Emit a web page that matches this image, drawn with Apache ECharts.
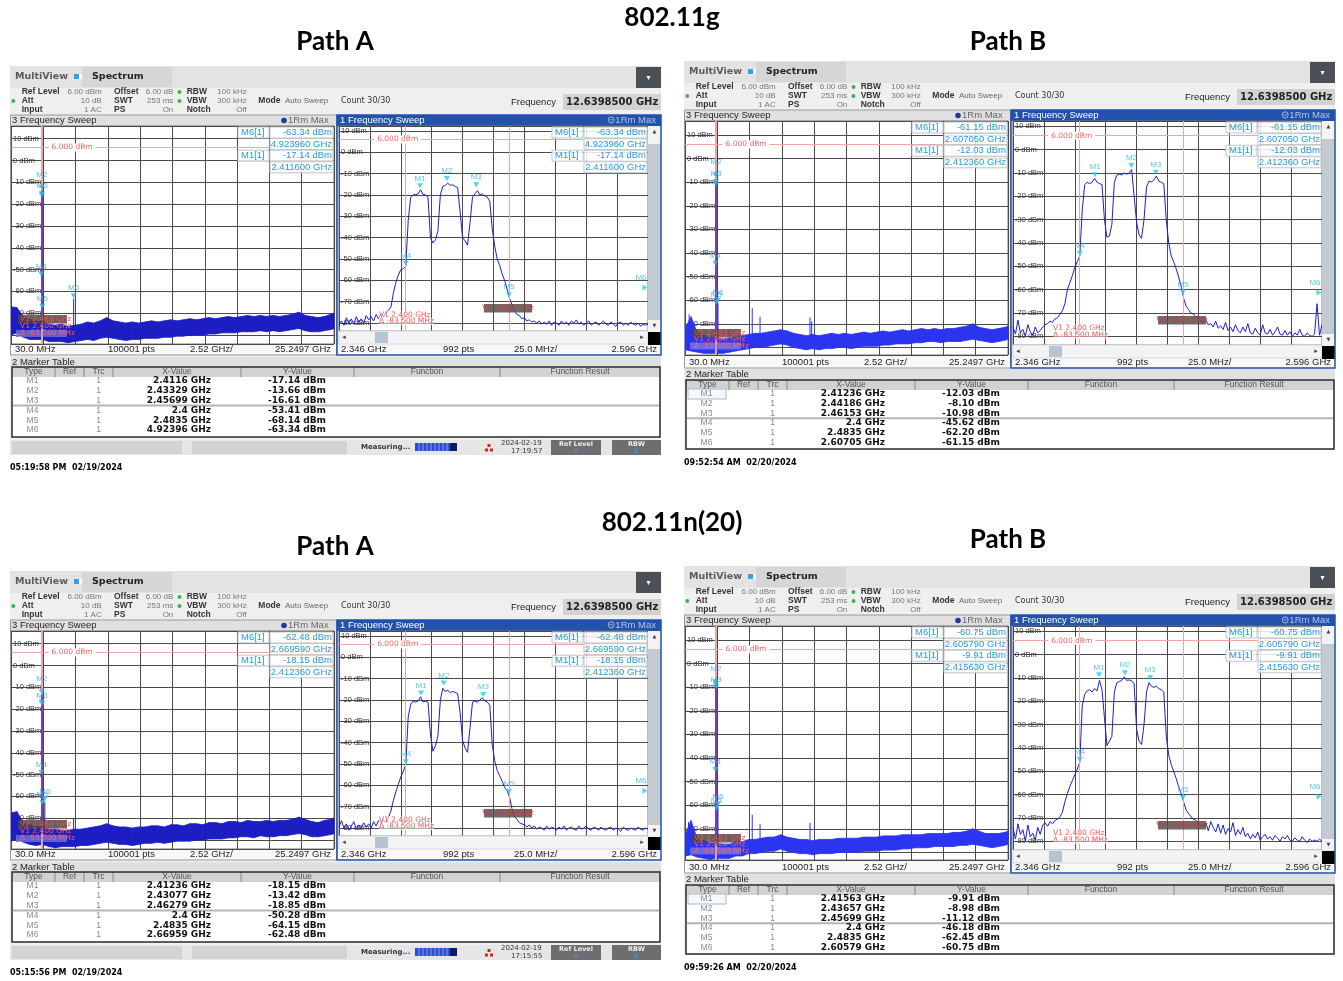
<!DOCTYPE html>
<html><head><meta charset="utf-8">
<script src="https://cdn.jsdelivr.net/npm/echarts@6/dist/echarts.min.js"></script>
<style>html,body{margin:0;padding:0;background:#fff;}#c{width:1343px;height:981px;}</style>
</head><body><div id="c"></div>
<script>
// ---------------- DATA ----------------
const SECTION_TITLES = ['802.11g', '802.11n(20)'];
const PATH_TITLES = ['Path A', 'Path B', 'Path A', 'Path B'];
const STAMPS = ['05:19:58 PM  02/19/2024', '09:52:54 AM  02/20/2024', '05:15:56 PM  02/19/2024', '09:59:26 AM  02/20/2024'];
const STATUS_DATES = ['2024-02-19', '', '2024-02-19', ''];
const STATUS_TIMES = ['17:19:57', '', '17:15:55', ''];
const SETTINGS = [['Ref Level', '6.00 dBm'], ['Att', '10 dB'], ['Input', '1 AC'],
                  ['Offset', '6.00 dB'], ['SWT', '253 ms'], ['PS', 'On'],
                  ['RBW', '100 kHz'], ['VBW', '300 kHz'], ['Notch', 'Off']];
const MODE = ['Mode', 'Auto Sweep'];
const COUNT = 'Count 30/30';
const CENTER_FREQ = '12.6398500 GHz';
const WIDE_FOOT = ['30.0 MHz', '100001 pts', '2.52 GHz/', '25.2497 GHz'];
const ZOOM_FOOT = ['2.346 GHz', '992 pts', '25.0 MHz/', '2.596 GHz'];
const TABLE_HEAD = ['Type', 'Ref', 'Trc', 'X-Value', 'Y-Value', 'Function', 'Function Result'];
const V_LABELS = ['V1 2.400 GHz', 'V2 2.483 GHz', '\u0394 -83.500 MHz'];
const REF_TEXT = '6.000 dBm';
const REF_LEVEL = 6;
const VLINES_GHZ = [2.4, 2.4835];
const WIDE_START = 0.03, WIDE_STOP = 25.2497;       // GHz
const ZOOM_START = 2346, ZOOM_STOP = 2596;          // MHz
const SPIKE_BASE = -77;

// zoomed trace frequency grid (MHz)
const Z_FREQ = [2346,2348,2350,2352,2354,2356,2358,2360,2362,2364,
2366,2368,2370,2372,2374,2376,2378,2380,2382,2384,
2386,2388,2390,2392,2394,2396,2398,2400,2402,2404,
2406,2408,2410,2412,2414,2416,2418,2420,2422,2424,
2426,2428,2430,2432,2434,2436,2438,2440,2442,2444,
2446,2448,2450,2452,2454,2456,2458,2460,2462,2464,
2466,2468,2470,2472,2474,2476,2478,2480,2482,2484,
2486,2488,2490,2492,2494,2496,2498,2500,2502,2504,
2506,2508,2510,2512,2514,2516,2518,2520,2522,2524,
2526,2528,2530,2532,2534,2536,2538,2540,2542,2544,
2546,2548,2550,2552,2554,2556,2558,2560,2562,2564,
2566,2568,2570,2572,2574,2576,2578,2580,2582,2584,
2586,2588,2590,2592,2594,2596];

const A_G_ZOOM = [-80.5,-79,-81,-77.5,-80,-78,-80.5,-77,-79.5,-78,
-80,-76.5,-78.5,-77,-79,-76,-78,-75.5,-77,-75,
-74,-72.5,-66,-61,-57.5,-55,-54.5,-53.4,-32,-21,
-20,-19.8,-19.5,-17.5,-19.8,-20,-21,-40,-42.5,-41,
-37,-20,-16,-15.5,-14.5,-15.5,-15.2,-16,-16.5,-28,
-40,-41.5,-43.5,-33,-21,-19.5,-18,-20,-19.5,-20.5,
-21,-23,-36,-44,-50,-53,-57,-60,-64,-68.5,
-71.5,-74.5,-76,-76.5,-78,-77.5,-79,-78.5,-79.5,-79,
-80,-79,-80.5,-79.5,-80.5,-79,-81,-79.5,-80,-81,
-79,-80.5,-79.5,-81,-79,-80,-78.5,-80.5,-79.5,-81,
-80,-79,-81,-80,-79.5,-81,-80,-79,-80.5,-81,
-79.5,-80.5,-81.5,-80,-79.5,-81,-80,-81,-79.5,-80.5,
-81,-80,-81.5,-80.5,-81,-80.5];

const B_G_ZOOM = [-76,-79,-73,-78.5,-77,-80,-75,-78,-79.5,-76,
-78.5,-77.5,-76,-75,-74.5,-73.5,-74,-72.5,-72,-70.5,
-69,-66,-60,-57,-54,-50.5,-48,-45.6,-26,-15,
-14,-14.5,-14,-12.3,-14,-14.5,-15,-30,-37.5,-37,
-32,-14,-11,-10.5,-10.8,-10,-10.5,-10,-8.5,-20,
-31,-36.5,-38,-30,-16,-13.5,-13.8,-13,-11.3,-13.5,
-14,-14.5,-30,-40,-45.5,-48,-51,-54.5,-58.5,-63.5,
-67,-68.5,-70,-70.5,-71.5,-72,-73.5,-74,-73,-75,
-74.5,-76,-73.5,-76.5,-75.5,-77,-74,-77.5,-76,-78,
-75,-77.5,-78.5,-76,-78,-74.5,-78.5,-79,-76.5,-78.5,
-79.5,-75,-78.5,-79,-77,-79.5,-78,-76,-79,-79.5,
-77.5,-79.5,-78,-80,-78.5,-79.5,-77,-79.5,-80,-78.5,
-79.5,-80,-79,-66,-79.5,-75];

const A_N_ZOOM = [-79.5,-76.5,-80,-78,-81,-79,-77,-80.5,-78.5,-80,
-77.5,-79.5,-78,-80,-77,-79,-76.5,-78,-76,-77.5,
-75,-72,-67,-63,-59.5,-56,-53.5,-50.3,-28,-22,
-20.5,-21,-20.5,-18.5,-21,-20.5,-21,-36,-44,-41.5,
-37,-20,-14.5,-16,-15.5,-16.5,-16,-16.5,-17,-26,
-39,-42.5,-44.5,-33,-21,-20.5,-21,-20,-19,-20.5,
-21,-22.5,-41,-48.5,-53,-55.5,-58,-61,-62.5,-65.5,
-71,-74.5,-76,-77.5,-78,-78.5,-79.5,-78.5,-80,-79,
-80.5,-79.5,-80,-81,-79,-80.5,-79.5,-80,-81,-79.5,
-80.5,-79,-81,-80,-79.5,-80.5,-81,-79,-80.5,-80,
-79,-80.5,-81,-79.5,-80,-81,-79.5,-80.5,-81,-80,
-79.5,-81,-80,-80.5,-81.5,-79.5,-80.5,-81,-80,-80.5,
-81,-79.5,-80.5,-81,-80,-80.5];

const B_N_ZOOM = [-74,-79,-72.5,-77,-75,-80,-73,-78,-76.5,-79.5,
-74,-77,-73,-72,-73.5,-71.5,-72.5,-71,-70.5,-69.5,
-67.5,-63,-59.5,-56.5,-54,-51.5,-49,-46.2,-22,-17,
-15.5,-15,-16,-14.5,-15.5,-11,-15,-27,-39,-37,
-35,-16,-12,-11.5,-11,-9.5,-11,-10.8,-11.2,-12.5,
-32,-37,-38.5,-30,-16,-12,-13.5,-14,-13.5,-14.5,
-15,-16,-35,-43,-47,-50,-53,-56.5,-59.5,-63,
-66.5,-68,-69.5,-70.5,-71,-72,-73,-73.5,-72,-75.5,
-71.5,-74,-76,-72.5,-76.5,-73,-77,-74.5,-76,-72,
-77.5,-75,-77,-74,-78,-76.5,-79,-77,-78.5,-76,
-79.5,-78,-77,-79,-78,-79.5,-77.5,-78.5,-80,-78,
-79,-77.5,-79.5,-80,-78.5,-79.5,-80,-78,-79.5,-80.5,
-79,-80,-79.5,-80,-79,-80];

// wide-span noise band (GHz grid), upper/lower envelope
const W_FREQ = [0.03,0.5,1,1.5,2,2.5,3,3.5,4,4.5,5,5.5,6,6.5,7,7.5,8,8.5,9,9.5,10,10.5,11,11.5,12,12.5,
13,13.5,14,14.5,15,15.5,16,16.5,17,17.5,18,18.5,19,19.5,20,20.5,21,21.5,22,22.5,23,23.5,24,24.5,25,25.2497];
const A_G_HI = [-67,-67.5,-72,-73,-73.5,-74,-75,-75.5,-75,-76,-75.5,-75,-74,-74.5,-73.5,-72,-73.5,-74,-74.5,-74,-74.5,-74,-73.5,-74,-73.5,-73,
-73.5,-73,-72.5,-73,-72.5,-72,-72.5,-72,-71.5,-72,-71.5,-71,-71.5,-71,-71.5,-71,-71.5,-71,-70.5,-69.5,-71,-71.5,-72,-71.5,-70.5,-70];
const A_G_LO = [-80,-79,-81,-82,-82,-82,-83,-83,-83,-83.5,-83,-82.5,-82,-82.5,-81.5,-81,-81.5,-82,-82.5,-82,-82,-81.5,-81.5,-81.5,-81,-81,
-80.5,-80.5,-80,-80,-80,-79.5,-79.5,-79,-79,-79,-78.5,-78.5,-78.5,-78,-78.5,-78,-78.5,-78,-77.5,-77,-78,-78.5,-78.5,-78,-77.5,-77];
const B_G_HI = [-72,-67,-74,-75,-75.5,-76,-76.5,-76,-75.5,-75,-74.5,-74,-74,-73.5,-73,-72.5,-73,-74,-74.5,-75,-74.5,-75,-74.5,-74,-74.5,-74,
-74.5,-74,-73.5,-74,-73.5,-73,-73.5,-73,-72.5,-73,-72.5,-72,-72.5,-72,-72.5,-72,-72,-71.5,-71,-70,-71.5,-72,-72.5,-72,-71.5,-71];
const B_G_LO = [-81,-81.5,-82,-82.5,-82.5,-82.5,-82.5,-82,-81.5,-81,-80.5,-80,-80,-79.5,-79,-78.5,-79,-80,-80.5,-81,-80.5,-81,-80.5,-80.5,-80,-80,
-80.5,-80,-79.5,-79.5,-79.5,-79,-79,-78.5,-78.5,-78.5,-78,-78,-77.5,-77.5,-78,-77.5,-77.5,-77.5,-77,-76.5,-77,-77.5,-78,-77.5,-77,-76.5];
const A_N_HI = [-67.5,-67,-72.5,-73,-73.5,-74.5,-75,-75,-75.5,-75.5,-75,-75,-74.5,-74,-73.5,-72.5,-73.5,-74,-74,-74.5,-74,-74,-73.5,-73.5,-74,-73,
-73,-73.5,-72.5,-72.5,-73,-72,-72,-72.5,-71.5,-71.5,-72,-71,-71.5,-71.5,-71,-71.5,-71,-71,-70.5,-69.5,-70.5,-71.5,-72,-71,-70.5,-70];
const A_N_LO = [-80.5,-79.5,-81,-82,-82.5,-82,-83,-83.5,-83,-83,-83,-82.5,-82.5,-82,-81.5,-81,-81.5,-82,-82,-82.5,-82,-81.5,-81.5,-81,-81.5,-81,
-80.5,-80.5,-80.5,-80,-80,-79.5,-79.5,-79.5,-79,-79,-78.5,-78.5,-79,-78,-78.5,-78.5,-78,-78,-77.5,-77,-77.5,-78.5,-78.5,-78,-77.5,-77];
const B_N_HI = [-72.5,-66.5,-74.5,-75,-76,-76,-76.5,-76.5,-75.5,-75.5,-74.5,-74.5,-74,-73.5,-73.5,-72.5,-73.5,-74,-74.5,-74.5,-75,-74.5,-74.5,-74.5,-74,-74,
-74,-74,-73.5,-73.5,-73.5,-73,-73,-73,-72.5,-72.5,-72.5,-72.5,-72,-72,-72,-72,-71.5,-71.5,-71,-70,-71,-72,-72,-72,-71.5,-71];
const B_N_LO = [-81.5,-81,-82,-82.5,-83,-82.5,-82.5,-82.5,-81.5,-81.5,-80.5,-80.5,-80,-79.5,-79.5,-78.5,-79.5,-80,-80.5,-80.5,-81,-80.5,-80.5,-80.5,-80,-80,
-80,-80,-79.5,-79.5,-79.5,-79,-79,-79,-78.5,-78.5,-78,-78,-78,-77.5,-77.5,-77.5,-77.5,-77,-77,-76.5,-77,-77.5,-78,-77.5,-77,-76.5];

// narrow spurs in the wide span (GHz, dBm)
const A_G_SPUR_F = [4.924];                     const A_G_SPUR_L = [-63.3];
const B_G_SPUR_F = [0.35, 2.607, 5.28, 5.89, 9.79, 9.92]; const B_G_SPUR_L = [-66, -61.2, -63.4, -67, -67.3, -69];
const A_N_SPUR_F = [2.67, 4.92];                const A_N_SPUR_L = [-62.5, -70];
const B_N_SPUR_F = [0.3, 2.606, 5.28, 5.89, 9.79]; const B_N_SPUR_L = [-67, -60.8, -64, -68, -67.5];
// in-band carrier envelope seen in the wide span [GHz, dBm]
const A_G_CARRIER = [2.45, -13.7];
const B_G_CARRIER = [2.45, -9.5];
const A_N_CARRIER = [2.45, -13.4];
const B_N_CARRIER = [2.45, -9.0];

// markers M1..M6 (GHz, dBm)
const A_G_MK_X = [2.4116, 2.43329, 2.45699, 2.4, 2.4835, 4.92396];
const A_G_MK_Y = [-17.14, -13.66, -16.61, -53.41, -68.14, -63.34];
const B_G_MK_X = [2.41236, 2.44186, 2.46153, 2.4, 2.4835, 2.60705];
const B_G_MK_Y = [-12.03, -8.10, -10.98, -45.62, -62.20, -61.15];
const A_N_MK_X = [2.41236, 2.43077, 2.46279, 2.4, 2.4835, 2.66959];
const A_N_MK_Y = [-18.15, -13.42, -18.85, -50.28, -64.15, -62.48];
const B_N_MK_X = [2.41563, 2.43657, 2.45699, 2.4, 2.4835, 2.60579];
const B_N_MK_Y = [-9.91, -8.98, -11.12, -46.18, -62.45, -60.75];

// ---------------- LAYOUT / STYLE ----------------
const LAYOUTS = {
  short: {wideH: 218, zoomH: 205, wideR: [-84.1, 15.8], zoomR: [-83.7, 12.3], footY: 283, mtY: 296, tTop: 301, tH: 70, hdrY: 306, row0: 315, rowH: 9.8,
          status: true, vBox: 29, vV1: 17.5, vD: 10.5, zV1: 16, zD: 9.5, zBox: 27},
  tall:  {wideH: 234, zoomH: 224, wideR: [-83.2, 15.9], zoomR: [-83.7, 12.3], footY: 301, mtY: 313, tTop: 319, tH: 69, hdrY: 324, row0: 333, rowH: 9.7,
          status: false, vBox: 26, vV1: 15.5, vD: 9, zV1: 17, zD: 9.7, zBox: 29}
};
const PANELS = [
  {ox: 10,  oy: 66,  lay: 'short', zoom: A_G_ZOOM, hi: A_G_HI, lo: A_G_LO, spF: A_G_SPUR_F, spL: A_G_SPUR_L, car: A_G_CARRIER, mx: A_G_MK_X, my: A_G_MK_Y, band: '#1d1dc4'},
  {ox: 684, oy: 61,  lay: 'tall',  zoom: B_G_ZOOM, hi: B_G_HI, lo: B_G_LO, spF: B_G_SPUR_F, spL: B_G_SPUR_L, car: B_G_CARRIER, mx: B_G_MK_X, my: B_G_MK_Y, band: '#2b34ee'},
  {ox: 10,  oy: 571, lay: 'short', zoom: A_N_ZOOM, hi: A_N_HI, lo: A_N_LO, spF: A_N_SPUR_F, spL: A_N_SPUR_L, car: A_N_CARRIER, mx: A_N_MK_X, my: A_N_MK_Y, band: '#1d1dc4'},
  {ox: 684, oy: 566, lay: 'tall',  zoom: B_N_ZOOM, hi: B_N_HI, lo: B_N_LO, spF: B_N_SPUR_F, spL: B_N_SPUR_L, car: B_N_CARRIER, mx: B_N_MK_X, my: B_N_MK_Y, band: '#2b34ee'}
];
const LSF = "'Liberation Sans'", DVF = "'DejaVu Sans'";

const E = [];
function txt(x, y, s, font, fill, align, extra, z) {
  const st = {text: s, font: font, fill: fill, align: align || 'left', verticalAlign: 'middle', textAlign: align || 'left', textVerticalAlign: 'middle'};
  if (extra) Object.assign(st, extra);
  return {type: 'text', x: x, y: y, z: z == null ? 60 : z, silent: true, style: st};
}
function rect(x, y, w, h, fill, stroke, lw, z) {
  return {type: 'rect', z: z == null ? -5 : z, silent: true, shape: {x: x, y: y, width: w, height: h},
          style: {fill: fill || 'none', stroke: stroke || 'none', lineWidth: lw || 1}};
}

const grids = [], xAxes = [], yAxes = [], series = [];

function xAxisDef(gi, mn, mx) {
  return {type: 'value', gridIndex: gi, min: mn, max: mx, interval: (mx - mn) / 10,
    axisLine: {show: false}, axisTick: {show: false}, axisLabel: {show: false},
    splitLine: {show: true, lineStyle: {color: '#4a4a4a', width: 1}}};
}
function yAxisDef(gi, r) {
  const mn = r[0], mx = r[1];
  return {type: 'value', gridIndex: gi, min: mn, max: mx, splitNumber: 10,
    axisLine: {show: false}, axisTick: {show: false},
    axisLabel: {show: true, inside: true, margin: 2, color: '#333', fontSize: 7.5, fontFamily: 'Liberation Sans',
      formatter: function (v) {
        const r10 = Math.round(v / 10) * 10;
        return (Math.abs(v - r10) < 1e-6 && v > mn + 0.5 && v < mx - 0.5) ? (r10 + ' dBm') : '';
      }},
    splitLine: {show: true, lineStyle: {color: '#4a4a4a', width: 1}}};
}
function vMarkLines(xs) {
  return {silent: true, animation: false, symbol: ['none', 'none'], label: {show: false},
    lineStyle: {color: '#f3a3a3', width: 1, type: 'solid'},
    data: xs.map(function (x) { return {xAxis: x}; }).concat([{yAxis: REF_LEVEL}])};
}
function refLabel(coord) {
  return {silent: true, animation: false, symbol: 'rect', symbolSize: 1, itemStyle: {color: 'rgba(0,0,0,0)'},
    label: {show: true, position: 'inside', formatter: REF_TEXT, color: '#f06767', fontSize: 7.5, fontFamily: 'DejaVu Sans',
            backgroundColor: '#fff', padding: [0, 3]},
    data: [{coord: coord}]};
}
function spurSeries(gi, data, color, lw, z) {
  return {type: 'custom', xAxisIndex: gi, yAxisIndex: gi, silent: true, z: z, data: data,
    renderItem: function (params, api) {
      const a = api.coord([api.value(0), SPIKE_BASE]);
      const b = api.coord([api.value(0), api.value(1)]);
      return {type: 'line', shape: {x1: a[0], y1: a[1], x2: b[0], y2: b[1]}, style: {stroke: color, lineWidth: lw}};
    }};
}
// noise band between lower and upper envelope, one quad per frequency step
function bandSeries(gi, P) {
  const data = [];
  for (let i = 0; i < W_FREQ.length - 1; i++) {
    data.push([W_FREQ[i], P.lo[i], P.hi[i], W_FREQ[i + 1], P.lo[i + 1], P.hi[i + 1]]);
  }
  return {type: 'custom', xAxisIndex: gi, yAxisIndex: gi, silent: true, z: 3, data: data,
    encode: {x: [0, 3], y: [1, 2, 4, 5]},
    renderItem: function (params, api) {
      const a = api.coord([api.value(0), api.value(2)]);
      const b = api.coord([api.value(3), api.value(5)]);
      const c = api.coord([api.value(3), api.value(4)]);
      const d = api.coord([api.value(0), api.value(1)]);
      return {type: 'polygon', shape: {points: [a, b, c, d]}, style: {fill: P.band, stroke: P.band, lineWidth: 0.8}};
    }};
}
function infoBox(R, T, P) {
  const rows = [['M6[1]', P.my[5].toFixed(2) + ' dBm'], [null, P.mx[5].toFixed(6) + ' GHz'],
                ['M1[1]', P.my[0].toFixed(2) + ' dBm'], [null, P.mx[0].toFixed(6) + ' GHz']];
  rows.forEach(function (r, i) {
    const yc = T + 6.5 + i * 11.6;
    E.push(rect(R - 64, yc - 5.5, 63, 11, 'rgba(255,255,255,0.85)', '#c4c4c4', 1, 55));
    E.push(txt(R - 2, yc, r[1], '9.5px ' + LSF, '#2a9ad8', 'right'));
    if (r[0]) {
      E.push(rect(R - 96, yc - 5.5, 31, 11, 'rgba(255,255,255,0.85)', '#c4c4c4', 1, 55));
      E.push(txt(R - 93, yc, r[0], '9.5px ' + LSF, '#2a9ad8'));
    }
  });
}

// ---------------- TITLES ----------------
E.push(txt(672, 18, SECTION_TITLES[0], 'bold 26px Lato', '#000', 'center'));
E.push(txt(672, 523, SECTION_TITLES[1], 'bold 26px Lato', '#000', 'center'));
const PATH_POS = [[335, 42], [1008, 42], [335, 547], [1008, 540]];
PATH_POS.forEach(function (pp, i) { E.push(txt(pp[0], pp[1], PATH_TITLES[i], 'bold 26px Lato', '#000', 'center')); });

// ---------------- PANELS ----------------
PANELS.forEach(function (P, p) {
  const L = LAYOUTS[P.lay];
  const ox = P.ox, oy = P.oy;
  const gw = 2 * p, gz = 2 * p + 1;
  const WL = ox + 1, WT = oy + 60, WW = 323, WH = L.wideH;
  const ZL = ox + 329, ZT = oy + 60, ZW = 309, ZH = L.zoomH;

  // frame and header
  E.push(rect(ox, oy, 651, 389, '#efefef', null, 1, -10));
  E.push(rect(ox, oy, 651, 22, '#e3e3e3', null, 1, -9));
  E.push(txt(ox + 5, oy + 11, 'MultiView', 'bold 9.5px ' + DVF, '#5a5a5a'));
  E.push(rect(ox + 64, oy + 8, 5, 5, '#2ea3f2', null, 1, 20));
  E.push(rect(ox + 69, oy + 8, 3, 5, '#ffffff', null, 1, 20));
  E.push(rect(ox + 72, oy + 1, 90, 20, '#d6d6d6', null, 1, -8));
  E.push(txt(ox + 82, oy + 11, 'Spectrum', 'bold 9.5px ' + DVF, '#222'));
  E.push(rect(ox + 626, oy + 1, 25, 21, '#4b5057', null, 1, -8));
  E.push(txt(ox + 638.5, oy + 11.5, '\u25BE', '8px ' + DVF, '#fff', 'center'));

  // settings rows
  const rowY = [oy + 26, oy + 35, oy + 44];
  const colL = [ox + 11.7, ox + 104, ox + 176.7];
  const colV = [ox + 91.7, ox + 163.3, ox + 236.7];
  SETTINGS.forEach(function (s, i) {
    const c = Math.floor(i / 3), r = i % 3;
    E.push(txt(colL[c], rowY[r], s[0], 'bold 8.5px ' + LSF, '#333'));
    E.push(txt(colV[c], rowY[r], s[1], '8px ' + LSF, '#777', 'right'));
  });
  [[ox + 3.3, rowY[1]], [ox + 169.5, rowY[0]], [ox + 169.5, rowY[1]]].forEach(function (d) {
    E.push({type: 'circle', z: 20, silent: true, shape: {cx: d[0], cy: d[1], r: 2}, style: {fill: '#3cb44b'}});
  });
  E.push(txt(ox + 248.3, rowY[1], MODE[0], 'bold 8.5px ' + LSF, '#333'));
  E.push(txt(ox + 275, rowY[1], MODE[1], '8px ' + LSF, '#666'));
  E.push(txt(ox + 331, rowY[1], COUNT, '8px ' + DVF, '#333'));
  E.push(txt(ox + 501, oy + 36, 'Frequency', '9.5px ' + LSF, '#222'));
  E.push(rect(ox + 553, oy + 28, 98, 16, '#d2d2d2', null, 1, -8));
  E.push(txt(ox + 556, oy + 36, CENTER_FREQ, 'bold 10px ' + DVF, '#222'));

  // sub-window title bars
  E.push(rect(ox + 1, oy + 49, 325, 11, '#e0e0e0', null, 1, -8));
  E.push(txt(ox + 2, oy + 54.5, '3 Frequency Sweep', '9.5px ' + LSF, '#222'));
  E.push({type: 'circle', z: 20, silent: true, shape: {cx: ox + 274, cy: oy + 54.5, r: 2.8}, style: {fill: '#1f3a9a'}});
  E.push(txt(ox + 278, oy + 54.5, '1Rm Max', '9.5px ' + LSF, '#666'));
  E.push(rect(ox + 327, oy + 49, 324, 11, '#2352ad', null, 1, -8));
  E.push(txt(ox + 330, oy + 54.5, '1 Frequency Sweep', '9.5px ' + LSF, '#fff'));
  E.push(txt(ox + 646, oy + 54.5, '\u229D1Rm Max', '9.5px ' + LSF, '#b3c4e6', 'right'));

  // footers
  E.push(rect(ox + 1, oy + L.footY - 5.5, 650, 11, '#f8f8f8', null, 1, -8));
  const fy = oy + L.footY;
  E.push(txt(ox + 5, fy, WIDE_FOOT[0], '9.5px ' + LSF, '#222'));
  E.push(txt(ox + 98, fy, WIDE_FOOT[1], '9.5px ' + LSF, '#222'));
  E.push(txt(ox + 180, fy, WIDE_FOOT[2], '9.5px ' + LSF, '#222'));
  E.push(txt(ox + 321, fy, WIDE_FOOT[3], '9.5px ' + LSF, '#222', 'right'));
  E.push(txt(ox + 331, fy, ZOOM_FOOT[0], '9.5px ' + LSF, '#222'));
  E.push(txt(ox + 433, fy, ZOOM_FOOT[1], '9.5px ' + LSF, '#222'));
  E.push(txt(ox + 504, fy, ZOOM_FOOT[2], '9.5px ' + LSF, '#222'));
  E.push(txt(ox + 647, fy, ZOOM_FOOT[3], '9.5px ' + LSF, '#222', 'right'));
  E.push(rect(ox + 0.5, oy + 49, 326, L.footY + 6 - 49, null, '#9a9a9a', 1, 56));
  E.push(rect(ox + 327, oy + 49, 324, L.footY + 6 - 49, null, '#2352ad', 1.5, 56));

  // scrollbars of the zoomed view
  const ZB = ZT + ZH, ZR = ZL + ZW;
  E.push(rect(ZR, ZT, 13, ZH, '#c3cad2', null, 1, 50));
  E.push(rect(ZR, ZT, 13, 18, '#f3f3f3', null, 1, 51));
  E.push(txt(ZR + 6.5, ZT + 6, '\u25B2', '5px ' + DVF, '#444', 'center'));
  E.push(rect(ZR, ZB - 11, 13, 11, '#f3f3f3', null, 1, 51));
  E.push(txt(ZR + 6.5, ZB - 5.5, '\u25BC', '5px ' + DVF, '#444', 'center'));
  E.push(rect(ZL, ZB, ZW, 13, '#f3f3f3', '#d8d8d8', 1, 50));
  E.push(rect(ZL + 36, ZB + 1, 13, 11, '#b7c3cf', null, 1, 51));
  E.push(txt(ZL + 5, ZB + 6.5, '\u25C2', '7px ' + DVF, '#444', 'center'));
  E.push(txt(ZR - 6, ZB + 6.5, '\u25B8', '7px ' + DVF, '#444', 'center'));
  E.push(rect(ZR, ZB + 1, 13, 13, '#000', null, 1, 51));

  // V-line annotations (wide)
  const WB = WT + WH;
  E.push(rect(WL + 7, WB - L.vBox, 49, 8.5, 'rgba(70,70,70,0.85)', null, 1, 57));
  E.push(txt(WL + 9, WB - L.vBox + 4.3, V_LABELS[1], '7.5px ' + DVF, '#ff4a4a'));
  E.push(txt(WL + 9, WB - L.vV1, V_LABELS[0], '7.5px ' + DVF, '#ff6060'));
  E.push(rect(WL + 5, WB - L.vD - 3.5, 51, 7, 'rgba(150,150,240,0.55)', null, 1, 57));
  E.push(txt(WL + 9, WB - L.vD, V_LABELS[2], '7.5px ' + DVF, '#ff6060'));
  // V-line annotations (zoom)
  E.push(txt(ZL + 40, ZB - L.zV1, V_LABELS[0], '7.5px ' + DVF, '#f05a5a', 'left', {backgroundColor: 'rgba(255,255,255,0.55)'}));
  E.push(txt(ZL + 40, ZB - L.zD, V_LABELS[2], '7.5px ' + DVF, '#f05a5a', 'left', {backgroundColor: 'rgba(255,255,255,0.55)'}));
  E.push(rect(ZL + 145, ZB - L.zBox, 48, 8.5, 'rgba(80,80,80,0.85)', null, 1, 57));
  E.push(txt(ZL + 169, ZB - L.zBox + 4.3, V_LABELS[1], '7.5px ' + DVF, '#e03a3a', 'center'));

  // marker readouts
  infoBox(WL + WW, WT, P);
  infoBox(ZR, ZT, P);

  // marker table
  E.push(rect(ox + 1, oy + L.mtY - 5, 650, 10, '#e0e0e0', null, 1, -8));
  E.push(txt(ox + 2, oy + L.mtY, '2 Marker Table', '9.5px ' + LSF, '#222'));
  const tT = oy + L.tTop;
  E.push(rect(ox + 2, tT, 648, L.tH, '#ffffff', null, 1, -7));
  E.push(rect(ox + 2, tT, 648, 10, '#d2d2d2', null, 1, -6));
  [45, 74, 103, 231, 344, 490].forEach(function (cx) {
    E.push({type: 'line', z: 20, silent: true, shape: {x1: ox + cx, y1: tT, x2: ox + cx, y2: tT + 10}, style: {stroke: '#8a8a8a', lineWidth: 1}});
  });
  [23.5, 59.5, 88.5, 167, 287.5, 417, 570].forEach(function (cx, i) {
    E.push(txt(ox + cx, oy + L.hdrY, TABLE_HEAD[i], '8.5px ' + LSF, '#555', 'center'));
  });
  E.push(rect(ox + 2, tT, 648, L.tH, null, '#2a2a2a', 1.5, 30));
  const sepY = oy + L.row0 + 2.5 * L.rowH;
  E.push(rect(ox + 3, sepY - 1, 646, 2, '#b4b4b4', null, 1, 20));
  if (!L.status) E.push(rect(ox + 4, oy + L.row0 - 5, 38, 10, '#f6f9fc', '#a9bccd', 1, 15));
  P.mx.forEach(function (x, i) {
    const ry = oy + L.row0 + i * L.rowH;
    E.push(txt(ox + 22.5, ry, 'M' + (i + 1), '8.5px ' + LSF, '#8a8a8a', 'center'));
    E.push(txt(ox + 88.5, ry, '1', '8.5px ' + LSF, '#8a8a8a', 'center'));
    E.push(txt(ox + 201, ry, String(parseFloat(x.toFixed(5))) + ' GHz', 'bold 9px ' + DVF, '#111', 'right'));
    E.push(txt(ox + 316, ry, P.my[i].toFixed(2) + ' dBm', 'bold 9px ' + DVF, '#111', 'right'));
  });

  // status bar
  if (L.status) {
    const sy = oy + 374;
    E.push(rect(ox, sy, 651, 15, '#e6e6e6', null, 1, -8));
    E.push(rect(ox + 2, sy + 1, 170, 13, '#d3d3d3', null, 1, -7));
    E.push(rect(ox + 182, sy + 1, 155, 13, '#d3d3d3', null, 1, -7));
    E.push(txt(ox + 351, sy + 7, 'Measuring...', 'bold 7px ' + DVF, '#333'));
    E.push(rect(ox + 405, sy + 3, 42, 8, '#2a4fd2', null, 1, 10));
    E.push(rect(ox + 440, sy + 3, 7, 8, '#0c1a66', null, 1, 11));
    [409, 413, 417, 421, 425, 429, 433, 437].forEach(function (sx) {
      E.push({type: 'line', z: 12, silent: true, shape: {x1: ox + sx, y1: sy + 3, x2: ox + sx, y2: sy + 11}, style: {stroke: '#c8d2ff', lineWidth: 0.6}});
    });
    E.push(rect(ox + 477.5, sy + 4, 3, 3, '#e02020', null, 1, 10));
    E.push(rect(ox + 475, sy + 8.5, 3, 3, '#e02020', null, 1, 10));
    E.push(rect(ox + 480, sy + 8.5, 3, 3, '#e02020', null, 1, 10));
    E.push(txt(ox + 491, sy + 3.5, STATUS_DATES[p], '7px ' + DVF, '#333'));
    E.push(txt(ox + 501, sy + 11.5, STATUS_TIMES[p], '7px ' + DVF, '#333'));
    E.push(rect(ox + 541, sy, 50, 15, '#6e6e6e', null, 1, -6));
    E.push(txt(ox + 566, sy + 4.5, 'Ref Level', 'bold 6.5px ' + DVF, '#eee', 'center'));
    E.push(txt(ox + 566, sy + 11, '0', '6px ' + DVF, '#39a8ff', 'center'));
    E.push(rect(ox + 602, sy, 49, 15, '#6e6e6e', null, 1, -6));
    E.push(txt(ox + 626.5, sy + 4.5, 'RBW', 'bold 6.5px ' + DVF, '#eee', 'center'));
    E.push(txt(ox + 626.5, sy + 11, '0', '6px ' + DVF, '#39a8ff', 'center'));
  }
  E.push(txt(ox, oy + 402, STAMPS[p], 'bold 8px ' + DVF, '#000'));

  // ---- grids / axes ----
  grids.push({left: WL, top: WT, width: WW, height: WH, show: true, backgroundColor: '#fff', borderColor: '#777', borderWidth: 1});
  grids.push({left: ZL, top: ZT, width: ZW, height: ZH, show: true, backgroundColor: '#fff', borderColor: '#777', borderWidth: 1});
  xAxes.push(xAxisDef(gw, WIDE_START, WIDE_STOP));
  xAxes.push(xAxisDef(gz, ZOOM_START, ZOOM_STOP));
  yAxes.push(yAxisDef(gw, L.wideR));
  yAxes.push(yAxisDef(gz, L.zoomR));

  // ---- wide-span series ----
  series.push(bandSeries(gw, P));
  series.push(spurSeries(gw, P.spF.map(function (f, i) { return [f, P.spL[i]]; }), P.band, 1, 4));
  series.push(spurSeries(gw, [P.car], '#7b3cc0', 2, 5));
  series.push({type: 'scatter', xAxisIndex: gw, yAxisIndex: gw, silent: true, z: 6,
    symbol: 'triangle', symbolRotate: 180, symbolSize: [6, 5], symbolOffset: [0, -3], itemStyle: {color: '#2fb4ee'},
    label: {show: true, position: 'top', distance: 1, formatter: '{b}', color: '#3aa6e4', fontSize: 8, fontFamily: 'Liberation Sans'},
    markLine: vMarkLines(VLINES_GHZ), markPoint: refLabel([4.8, REF_LEVEL]),
    data: P.mx.map(function (x, i) {
      const it = {name: 'M' + (i + 1), value: [x, P.my[i]]};
      if (i === 0) it.label = {show: false};
      if (i === 1) it.label = {offset: [0, -5]};
      return it;
    })});

  // ---- zoomed-span series ----
  series.push({type: 'line', xAxisIndex: gz, yAxisIndex: gz, silent: true, z: 3, symbol: 'none',
    lineStyle: {color: '#1e1ecf', width: 1},
    data: Z_FREQ.map(function (f, i) { return [f, P.zoom[i]]; }),
    markLine: vMarkLines(VLINES_GHZ.map(function (v) { return v * 1000; })), markPoint: refLabel([2393.5, REF_LEVEL])});
  series.push({type: 'scatter', xAxisIndex: gz, yAxisIndex: gz, silent: true, z: 6,
    symbol: 'triangle', symbolRotate: 180, symbolSize: [6, 5], symbolOffset: [0, -3], itemStyle: {color: '#1fcdf2'},
    label: {show: true, position: 'top', distance: 1, formatter: '{b}', color: '#2cb9e8', fontSize: 8, fontFamily: 'Liberation Sans'},
    data: P.mx.map(function (x, i) {
      const f = x * 1000;
      const it = {name: 'M' + (i + 1), value: [Math.min(f, ZOOM_STOP), P.my[i]]};
      if (f > ZOOM_STOP) { it.symbolRotate = -90; it.symbolOffset = [-3, 0]; it.label = {offset: [-4, -2]}; }
      return it;
    })});
});

const chart = echarts.init(document.getElementById('c'), null, {width: 1343, height: 981});
chart.setOption({
  animation: false,
  backgroundColor: '#ffffff',
  grid: grids, xAxis: xAxes, yAxis: yAxes, series: series,
  graphic: {elements: E}
});
</script>
</body></html>
